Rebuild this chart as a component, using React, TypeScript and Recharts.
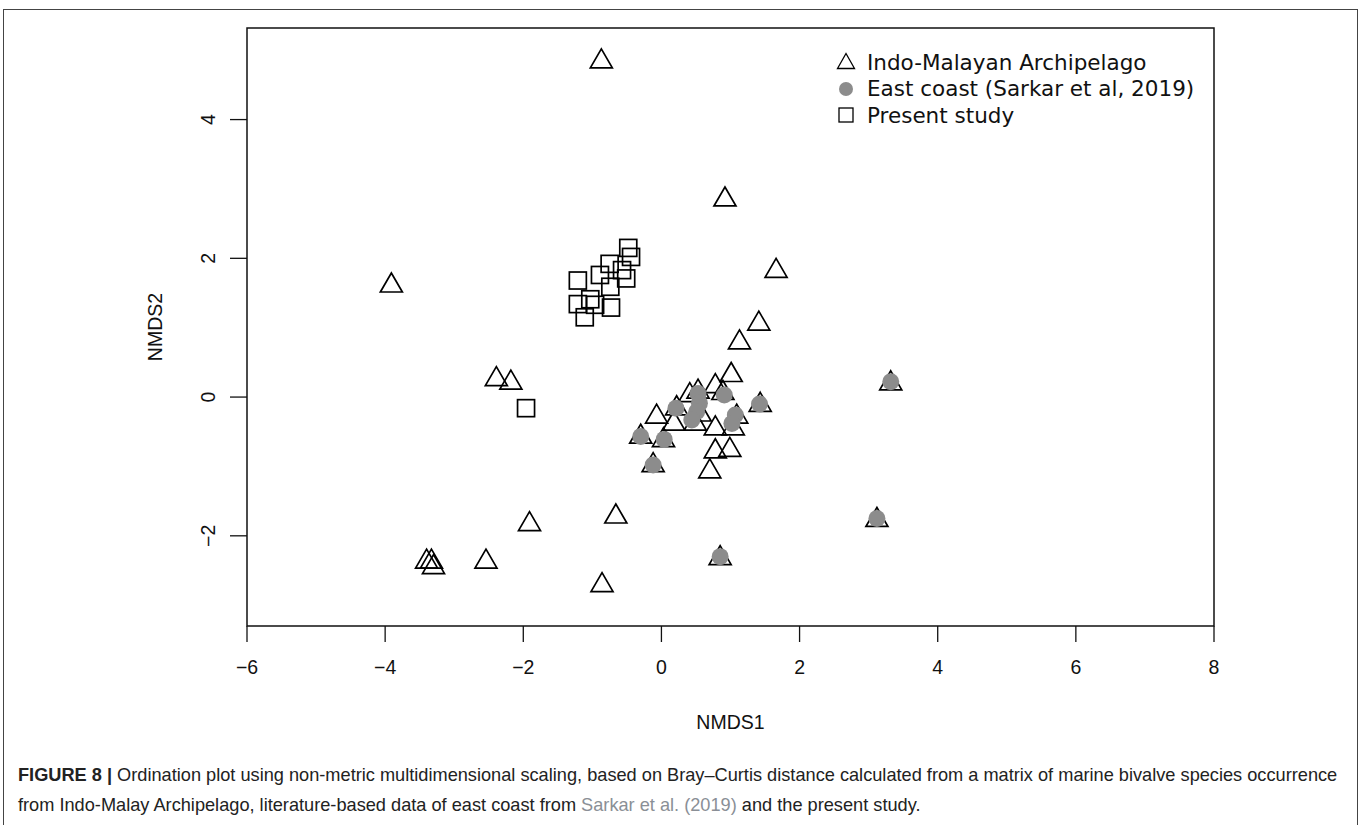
import React from 'react'
import {
  ScatterChart, Scatter, XAxis, YAxis, ReferenceArea,
} from 'recharts'

// NMDS scores
const indoMalayan: [number, number][] = [
  [-0.87, 4.86], [0.92, 2.87], [1.66, 1.84], [1.41, 1.08], [1.13, 0.81],
  [1.01, 0.34], [0.78, 0.18], [0.53, 0.10], [0.41, 0.05], [0.89, 0.08],
  [-0.07, -0.26], [0.22, -0.14], [0.18, -0.36], [0.56, -0.23], [0.49, -0.36],
  [0.78, -0.43], [1.09, -0.26], [1.04, -0.43], [1.43, -0.09], [-0.30, -0.55],
  [0.03, -0.60], [0.78, -0.76], [0.99, -0.74], [-0.12, -0.96], [0.70, -1.05],
  [-3.91, 1.63], [-2.39, 0.28], [-2.18, 0.23], [-3.40, -2.35], [-3.33, -2.35],
  [-3.30, -2.43], [-2.54, -2.35], [-1.91, -1.81], [-0.66, -1.70], [-0.86, -2.69],
  [0.85, -2.30], [3.32, 0.22], [3.12, -1.75],
]

const eastCoast: [number, number][] = [
  [0.53, 0.05], [0.91, 0.03], [0.21, -0.16], [0.55, -0.09], [0.51, -0.21],
  [0.44, -0.33], [1.07, -0.26], [1.02, -0.38], [1.42, -0.10], [-0.30, -0.57],
  [0.04, -0.61], [-0.12, -0.98], [0.85, -2.30], [3.32, 0.22], [3.12, -1.75],
]

const presentStudy: [number, number][] = [
  [-0.48, 2.15], [-0.44, 2.02], [-0.75, 1.92], [-0.57, 1.83], [-0.51, 1.71],
  [-0.89, 1.76], [-1.21, 1.68], [-0.74, 1.59], [-1.21, 1.34], [-1.03, 1.41],
  [-0.96, 1.33], [-0.73, 1.29], [-1.11, 1.15], [-1.96, -0.16],
]

const xTicks = [-6, -4, -2, 0, 2, 4, 6, 8]
const yTicks = [-2, 0, 2, 4]
const xDomain: [number, number] = [-6, 8]
const yDomain: [number, number] = [-3.3, 5.32]

const legendItems = [
  { name: 'Indo-Malayan Archipelago', kind: 'triangle' },
  { name: 'East coast (Sarkar et al, 2019)', kind: 'circle' },
  { name: 'Present study', kind: 'square' },
]

const toPoints = (arr: [number, number][]) => arr.map(([x, y]) => ({ x, y }))

const GREY = '#8c8c8c'
const AXIS_FONT = '"Liberation Sans", Arial, sans-serif'

const fmt = (v: number) => String(v).replace('-', '\u2212')

const Triangle = (props: any) => {
  const { cx, cy } = props
  return (
    <path
      d={`M${cx},${cy - 11} L${cx + 11},${cy + 8} L${cx - 11},${cy + 8} Z`}
      fill="none" stroke="#000" strokeWidth={1.7} strokeLinejoin="miter"
    />
  )
}

const Dot = (props: any) => <circle cx={props.cx} cy={props.cy} r={8.5} fill={GREY} />

const Square = (props: any) => {
  const { cx, cy } = props
  return <rect x={cx - 8.5} y={cy - 8.5} width={17} height={17} fill="none" stroke="#000" strokeWidth={1.7} />
}

const YTick = (props: any) => {
  const { x, y, payload } = props
  return (
    <text x={x} y={y} transform={`rotate(-90 ${x} ${y})`} textAnchor="middle"
      fontFamily={AXIS_FONT} fontSize={19.5} fill="#111">
      {fmt(payload.value)}
    </text>
  )
}

const YTitle = (props: any) => {
  const { viewBox } = props
  const x = viewBox.x + 15
  const y = viewBox.y + viewBox.height / 2
  return (
    <text x={x} y={y} transform={`rotate(-90 ${x} ${y})`} textAnchor="middle"
      fontFamily={AXIS_FONT} fontSize={19.5} fill="#111">
      NMDS2
    </text>
  )
}

const LegendIcon = ({ kind }: { kind: string }) => (
  <svg width={24} height={24} style={{ display: 'block' }}>
    {kind === 'triangle' && <path d="M12,3.5 L20.5,18.5 L3.5,18.5 Z" fill="none" stroke="#000" strokeWidth={1.3} />}
    {kind === 'circle' && <circle cx={12} cy={12} r={7} fill={GREY} />}
    {kind === 'square' && <rect x={5} y={5} width={14} height={14} fill="none" stroke="#000" strokeWidth={1.3} />}
  </svg>
)

const LegendBox = () => (
  <div style={{
    position: 'absolute', left: 834, top: 49,
    fontFamily: '"DejaVu Sans", Verdana, sans-serif', fontSize: 21.5, color: '#111',
  }}>
    {legendItems.map(it => (
      <div key={it.name} style={{ display: 'flex', alignItems: 'center', height: 26.5 }}>
        <LegendIcon kind={it.kind} />
        <span style={{ marginLeft: 9, whiteSpace: 'nowrap' }}>{it.name}</span>
      </div>
    ))}
  </div>
)

export default function App() {
  return (
    <div style={{ position: 'absolute', left: 0, top: 0, width: 1360, height: 825, background: '#fff', overflow: 'hidden' }}>
      <div style={{ position: 'absolute', left: 3, top: 9, width: 1353, height: 840, border: '1px solid #444' }} />
      <div style={{ position: 'absolute', left: 0, top: 0 }}>
        <ScatterChart width={1360} height={760} margin={{ top: 28, right: 146, left: 147, bottom: 24 }}>
          <XAxis
            type="number" dataKey="x" domain={xDomain} ticks={xTicks} allowDataOverflow
            axisLine={false} tickSize={16} tickMargin={18} height={110}
            tickFormatter={fmt}
            tick={{ fontFamily: AXIS_FONT, fontSize: 19.5, fill: '#111' }}
            tickLine={{ stroke: '#111', strokeWidth: 1.3 }}
            label={{ value: 'NMDS1', position: 'insideBottom', offset: 7, fontFamily: AXIS_FONT, fontSize: 19.5, fill: '#111' }}
          />
          <YAxis
            type="number" dataKey="y" domain={yDomain} ticks={yTicks} allowDataOverflow
            axisLine={false} tickSize={17} tickMargin={15} width={100}
            tick={<YTick />}
            tickLine={{ stroke: '#111', strokeWidth: 1.3 }}
            label={{ content: <YTitle /> }}
          />
          <ReferenceArea x1={-6} x2={8} y1={-3.3} y2={5.32} fill="none" stroke="#111" strokeWidth={1.5} ifOverflow="visible" />
          <Scatter name="Indo-Malayan Archipelago" data={toPoints(indoMalayan)} shape={<Triangle />} isAnimationActive={false} />
          <Scatter name="East coast (Sarkar et al, 2019)" data={toPoints(eastCoast)} shape={<Dot />} isAnimationActive={false} />
          <Scatter name="Present study" data={toPoints(presentStudy)} shape={<Square />} isAnimationActive={false} />
        </ScatterChart>
      </div>
      <LegendBox />
      <div style={{
        position: 'absolute', left: 18, top: 760, width: 1340,
        fontFamily: '"Liberation Sans", Arial, sans-serif',
        fontSize: 18.2, lineHeight: '30px', color: '#222', whiteSpace: 'nowrap',
      }}>
        <b>FIGURE 8 |</b> Ordination plot using non-metric multidimensional scaling, based on Bray–Curtis distance calculated from a matrix of marine bivalve species occurrence<br />
        from Indo-Malay Archipelago, literature-based data of east coast from <span style={{ color: '#8a8f96' }}>Sarkar et al. (2019)</span> and the present study.
      </div>
    </div>
  )
}
